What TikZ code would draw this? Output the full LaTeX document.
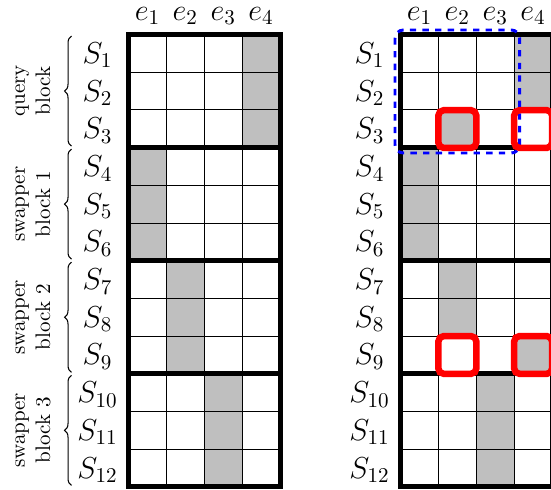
\documentclass[tikz,border=0pt]{standalone}
\usetikzlibrary{decorations.pathreplacing}
\begin{document}
\begin{tikzpicture}[x=0.475pt,y=-0.475pt,
  cell/.style={draw=black,line width=0.45pt},
  shaded/.style={fill=lightgray},
  border/.style={line width=2.4pt},
  lab/.style={font=\Large, inner sep=0pt, anchor=base},
  blocklab/.style={rotate=90, align=center, font=\normalsize, inner sep=0pt},
  bracestyle/.style={decorate, decoration={brace, amplitude=3.3pt}, line width=0.5pt},
  swapbox/.style={draw=red, line width=3.1pt, rounded corners=2.5pt},
  querybox/.style={draw=blue, dashed, line width=1.4pt, rounded corners=4pt}]
\clip (0,0) rectangle (551,489);
% ---------- left grid ----------
\foreach \r in {0,...,11} \foreach \c in {0,...,3}
  \draw[cell,fill=white] ({128.5+\c*37.9},{34.5+\r*37.7}) rectangle ++(37.9,37.7);
\foreach \c/\r in {3/0,3/1,3/2,0/3,0/4,0/5,1/6,1/7,1/8,2/9,2/10,2/11}
  \draw[cell,shaded] ({128.5+\c*37.9},{34.5+\r*37.7}) rectangle ++(37.9,37.7);
\draw[border] (128.5,34.5) rectangle (280.1,486.9);
\foreach \r in {3,6,9}
  \draw[border] (128.5,{34.5+\r*37.7}) -- (280.1,{34.5+\r*37.7});
% ---------- right grid ----------
\foreach \r in {0,...,11} \foreach \c in {0,...,3}
  \draw[cell,fill=white] ({400.5+\c*37.9},{34.5+\r*37.7}) rectangle ++(37.9,37.7);
\foreach \c/\r in {3/0,3/1,1/2,0/3,0/4,0/5,1/6,1/7,3/8,2/9,2/10,2/11}
  \draw[cell,shaded] ({400.5+\c*37.9},{34.5+\r*37.7}) rectangle ++(37.9,37.7);
\draw[border] (400.5,34.5) rectangle (552.1,486.9);
\foreach \r in {3,6,9}
  \draw[border] (400.5,{34.5+\r*37.7}) -- (552.1,{34.5+\r*37.7});
% ---------- column labels ----------
\foreach \c in {1,...,4} {
  \node[lab] (le\c) at ({128.5+(\c-0.5)*37.9},20) {$e_{\c}$};
  \node[lab] (re\c) at ({400.5+(\c-0.5)*37.9},20) {$e_{\c}$};
}
% ---------- row labels ----------
\foreach \r in {1,...,12} {
  \node[lab] (lS\r) at (97.5,{34.5+(\r-0.5)*37.7+10}) {$S_{\r}$};
  \node[lab] (rS\r) at (369.5,{34.5+(\r-0.5)*37.7+10}) {$S_{\r}$};
}
% ---------- block labels and braces ----------
\node[blocklab] (qb) at (33,91) {query\\block};
\node[blocklab] (sb1) at (33,204.2) {swapper\\block 1};
\node[blocklab] (sb2) at (33,317.3) {swapper\\block 2};
\node[blocklab] (sb3) at (33,430.4) {swapper\\block 3};
\foreach \b in {0,1,2,3} {
  \coordinate (bt\b) at (71.5,{34.5+\b*113.1+1.5});
  \coordinate (bb\b) at (71.5,{34.5+(\b+1)*113.1-1.5});
  \draw[bracestyle] (bb\b) -- (bt\b);
}
% ---------- highlights ----------
\draw[querybox] (395,30) rectangle (519.7,153);
\draw[swapbox] (438.4,110.2) rectangle (476.3,147.9);
\draw[swapbox] (514.2,110.2) rectangle (552.1,147.9);
\draw[swapbox] (438.4,336.1) rectangle (476.3,373.8);
\draw[swapbox] (514.2,336.1) rectangle (552.1,373.8);
\end{tikzpicture}
\end{document}
